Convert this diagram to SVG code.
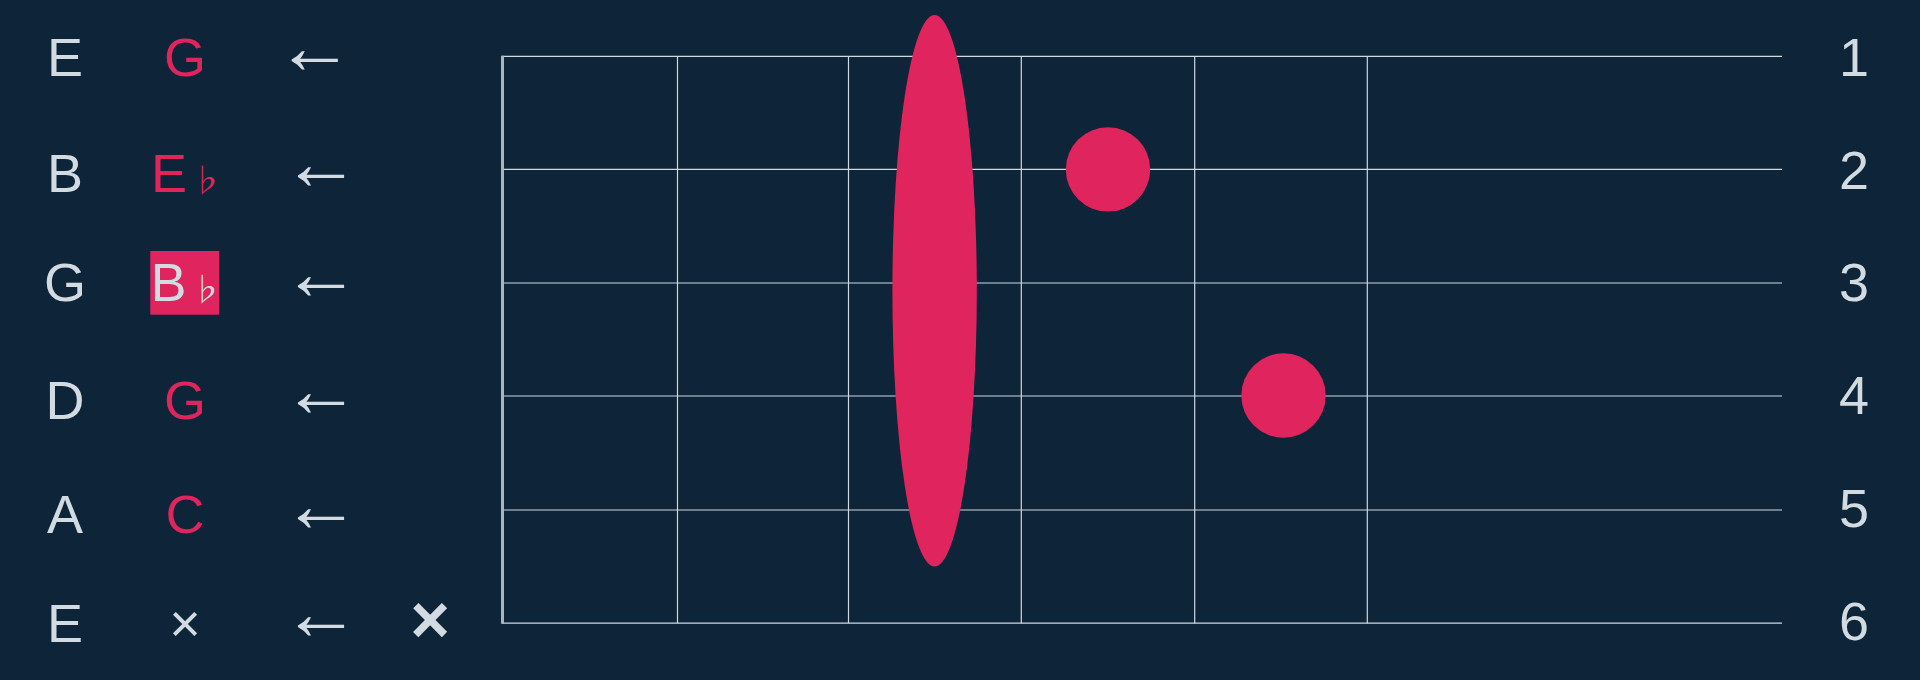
<svg xmlns="http://www.w3.org/2000/svg" width="1920" height="680" viewBox="0 0 1920 680">
<style>
.lbl{font-family:"Liberation Sans",Arial,sans-serif;font-size:54px;fill:#d3dbe2;text-anchor:middle}
.note{font-family:"Liberation Sans",Arial,sans-serif;font-size:54px;fill:#e0245e;text-anchor:middle}
.flat{font-family:"Noto Sans CJK JP","DejaVu Sans",sans-serif;font-size:32px;text-anchor:middle}
.arr{font-family:"Liberation Sans","DejaVu Sans",sans-serif;font-size:78px;fill:#d3dbe2;text-anchor:middle}
.str{stroke:#d0d8e0;stroke-width:1.2}
.fret{stroke:#d0d8e0;stroke-width:1.2}
.dot{fill:#e0245e}
</style>
<rect width="1920" height="680" fill="#0e2438"/>
<g id="fretboard">
<line class="fret" x1="677.5" y1="56.4" x2="677.5" y2="623.2"/>
<line class="fret" x1="848.5" y1="56.4" x2="848.5" y2="623.2"/>
<line class="fret" x1="1021.3" y1="56.4" x2="1021.3" y2="623.2"/>
<line class="fret" x1="1194.7" y1="56.4" x2="1194.7" y2="623.2"/>
<line class="fret" x1="1367.3" y1="56.4" x2="1367.3" y2="623.2"/>
<line class="str" x1="502" y1="56.4" x2="1782" y2="56.4"/>
<line class="str" x1="502" y1="169.4" x2="1782" y2="169.4"/>
<line class="str" x1="502" y1="283" x2="1782" y2="283"/>
<line class="str" x1="502" y1="396" x2="1782" y2="396"/>
<line class="str" x1="502" y1="510" x2="1782" y2="510"/>
<line class="str" x1="502" y1="623.2" x2="1782" y2="623.2"/>
<line x1="502.5" y1="55.8" x2="502.5" y2="623.8" stroke="#a9b4bf" stroke-width="3"/>
</g>
<g id="barre"><ellipse class="dot" cx="934.6" cy="290.8" rx="42.2" ry="275.8"/></g>
<g id="dot-2-4"><circle class="dot" cx="1108" cy="169.4" r="42.2"/></g>
<g id="dot-4-5"><circle class="dot" cx="1283.5" cy="395.5" r="42.2"/></g>
<g id="open-strings">
<text class="lbl" x="65" y="76">E</text>
<text class="lbl" x="65" y="192.3">B</text>
<text class="lbl" x="65" y="301">G</text>
<text class="lbl" x="65" y="419.3">D</text>
<text class="lbl" x="65" y="533">A</text>
<text class="lbl" x="65" y="642.3">E</text>
</g>
<g id="notes">
<text class="note" x="185" y="76">G</text>
<g id="note-eflat">
<text class="note" x="169" y="192.3">E</text>
<text class="flat" x="206.5" y="192" fill="#e0245e">♭</text>
</g>
<g id="note-bflat">
<rect x="150.3" y="251" width="69" height="63.7" fill="#e0245e"/>
<text class="lbl" x="168.5" y="301.4">B</text>
<text class="flat" x="206.5" y="301" fill="#d3dbe2">♭</text>
</g>
<text class="note" x="185" y="419.3">G</text>
<text class="note" x="185" y="533.3">C</text>
<text class="lbl" x="185" y="642">×</text>
</g>
<g id="connectors">
<text class="arr" x="314.7" y="72.6">←</text>
<text class="arr" x="320.9" y="189.3">←</text>
<text class="arr" x="320.9" y="299.3">←</text>
<text class="arr" x="320.9" y="416">←</text>
<text class="arr" x="320.9" y="531">←</text>
<text class="arr" x="320.9" y="639.3">←</text>
</g>
<g id="mute"><text class="lbl" x="430" y="643" style="font-size:68px;font-weight:bold">×</text></g>
<g id="string-numbers">
<text class="lbl" x="1854" y="76">1</text>
<text class="lbl" x="1854" y="188.6">2</text>
<text class="lbl" x="1854" y="301.4">3</text>
<text class="lbl" x="1854" y="414.1">4</text>
<text class="lbl" x="1854" y="526.9">5</text>
<text class="lbl" x="1854" y="639.6">6</text>
</g>
</svg>
